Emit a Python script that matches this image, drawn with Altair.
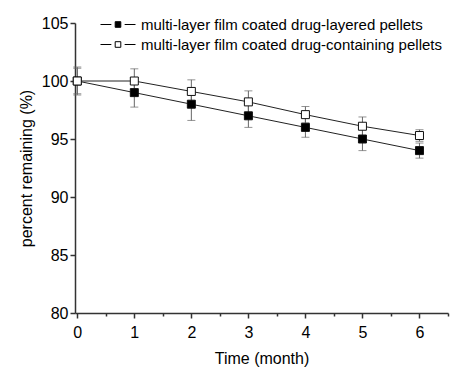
import altair as alt
import pandas as pd

months = [0, 1, 2, 3, 4, 5, 6]
layered = [100.0, 99.0, 98.0, 97.0, 96.0, 95.0, 94.0]
layered_err = [1.2, 1.25, 1.4, 1.0, 0.85, 1.0, 0.65]
containing = [100.0, 100.0, 99.1, 98.2, 97.1, 96.1, 95.3]
containing_err = [1.1, 1.05, 1.0, 0.95, 0.7, 0.8, 0.5]
series_names = ["multi-layer film coated drug-layered pellets",
                "multi-layer film coated drug-containing pellets"]

rows = []
for i, name in enumerate(series_names):
    vals = layered if i == 0 else containing
    errs = layered_err if i == 0 else containing_err
    for m, v, e in zip(months, vals, errs):
        rows.append({"month": m, "value": v, "lo": v - e, "hi": v + e,
                     "series": name, "order": i})
df = pd.DataFrame(rows)

FONT = "Liberation Sans"
xscale = alt.Scale(domain=[-0.04, 6.5], nice=False, zero=False)
yscale = alt.Scale(domain=[80, 105], nice=False, zero=False)

xaxis = alt.Axis(values=[i * 0.5 for i in range(14)],
                 labelExpr="datum.value % 1 === 0 ? format(datum.value, 'd') : ''",
                 tickSize={"condition": {"test": "datum.value % 1 !== 0", "value": 3}, "value": 5},
                 title="Time (month)", grid=False, labelFontSize=16, titleFontSize=16,
                 labelPadding=6, titlePadding=10, titleFontWeight="normal",
                 domainColor="#333333", tickColor="#333333", domainWidth=1.5, tickWidth=1.5,
                 labelFont=FONT, titleFont=FONT, labelColor="black", titleColor="black",
                 labelFlush=False, labelOverlap=False)
yaxis = alt.Axis(values=[80 + 2.5 * i for i in range(11)],
                 labelExpr="datum.value % 5 === 0 ? format(datum.value, 'd') : ''",
                 tickSize={"condition": {"test": "datum.value % 5 !== 0", "value": 3}, "value": 5},
                 title="percent remaining (%)", grid=False, labelFontSize=16, titleFontSize=16,
                 labelPadding=2, titlePadding=7, titleFontWeight="normal",
                 domainColor="#333333", tickColor="#333333", domainWidth=1.5, tickWidth=1.5,
                 labelFont=FONT, titleFont=FONT, labelColor="black", titleColor="black",
                 labelFlush=False, labelOverlap=False)

base = alt.Chart(df)
x = alt.X("month:Q", scale=xscale, axis=xaxis)

err = base.mark_rule(color="#666666", strokeWidth=1).encode(
    x=x, y=alt.Y("lo:Q", scale=yscale, axis=yaxis), y2="hi:Q")
cap_lo = base.mark_tick(orient="horizontal", size=8, thickness=1, color="#666666").encode(
    x=x, y=alt.Y("lo:Q", scale=yscale))
cap_hi = base.mark_tick(orient="horizontal", size=8, thickness=1, color="#666666").encode(
    x=x, y=alt.Y("hi:Q", scale=yscale))
lines = base.mark_line(color="#222222", strokeWidth=1).encode(
    x=x, y=alt.Y("value:Q", scale=yscale), detail="series:N")

symbol_path = "M-1,0H-0.38M0.38,0H1M-0.16,-0.16H0.16V0.16H-0.16Z"
points = base.mark_point(shape="square", filled=True, size=64, stroke="#111111",
                         strokeWidth=1, opacity=1).encode(
    x=x, y=alt.Y("value:Q", scale=yscale),
    fill=alt.Fill("series:N", sort=series_names,
                  scale=alt.Scale(domain=series_names, range=["black", "white"]),
                  legend=alt.Legend(title=None, orient="none", legendX=25, legendY=-6,
                                    symbolType=symbol_path, symbolSize=1225,
                                    symbolStrokeColor="black", symbolStrokeWidth=1,
                                    clipHeight=15, rowPadding=4, labelOffset=5,
                                    labelFontSize=15, labelFont=FONT, labelColor="black",
                                    labelLimit=400, padding=0)),
    order=alt.Order("order:Q"))

chart = alt.layer(err, cap_lo, cap_hi, lines, points).properties(
    width=373, height=290,
    autosize=alt.AutoSizeParams(type="none"),
    padding={"left": 75, "top": 23, "right": 5, "bottom": 56},
    background="white",
).configure_view(stroke=None)

chart.save("out.html", embed_options={"renderer": "svg", "actions": False})
